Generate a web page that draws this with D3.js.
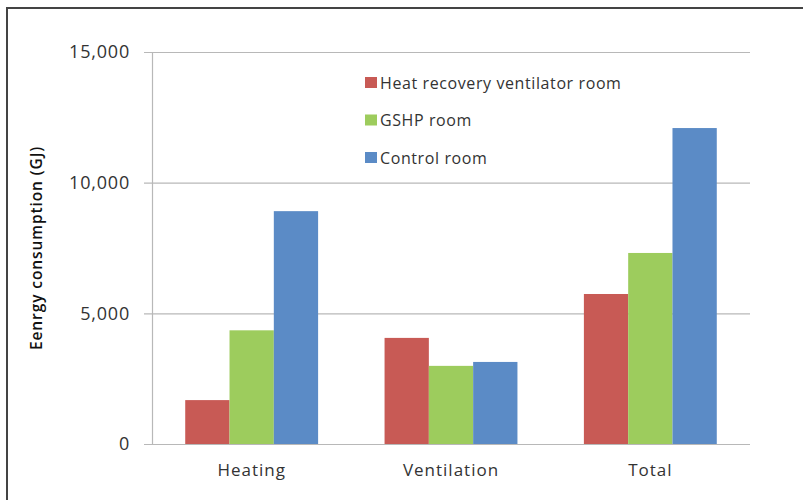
<!DOCTYPE html>
<html>
<head>
<meta charset="utf-8">
<script src="https://cdn.jsdelivr.net/npm/d3@7"></script>
<style>
  body { margin: 0; background: #fff; }
  text { font-family: "Open Sans", Lato, sans-serif; fill: #333; }
</style>
</head>
<body>
<div id="chart"></div>
<script>
const categories = ["Heating", "Ventilation", "Total"];
const seriesNames = ["Heat recovery ventilator room", "GSHP room", "Control room"];
const hrvRoom = [1680, 4060, 5740];
const gshpRoom = [4350, 2990, 7310];
const controlRoom = [8910, 3140, 12090];
const yTicks = [0, 5000, 10000, 15000];
const colors = ["#c85a55", "#9dcc5d", "#5b8bc6"];

const width = 803, height = 500;
const margin = { top: 52, left: 152, right: 53, bottom: 56 };

const svg = d3.select("#chart").append("svg")
  .attr("width", width)
  .attr("height", height);

// outer frame, runs off the right and bottom edges
svg.append("rect")
  .attr("x", 7).attr("y", 8)
  .attr("width", width + 10).attr("height", height + 10)
  .attr("fill", "none").attr("stroke", "#444").attr("stroke-width", 2);

const x = d3.scaleBand()
  .domain(categories)
  .range([margin.left, width - margin.right]);

const y = d3.scaleLinear()
  .domain([0, 15000])
  .range([height - margin.bottom, margin.top]);

// gridlines
svg.append("g")
  .selectAll("line")
  .data(yTicks)
  .join("line")
  .attr("x1", margin.left - 8)
  .attr("x2", width - margin.right)
  .attr("y1", d => y(d) + 0.5)
  .attr("y2", d => y(d) + 0.5)
  .attr("stroke", "#b8b8b8")
  .attr("stroke-width", 1.2);

// y axis line
svg.append("line")
  .attr("x1", margin.left + 0.5).attr("x2", margin.left + 0.5)
  .attr("y1", y(15000)).attr("y2", y(0))
  .attr("stroke", "#b8b8b8").attr("stroke-width", 1.2);

// y tick labels
svg.append("g")
  .selectAll("text")
  .data(yTicks)
  .join("text")
  .attr("x", margin.left - 22)
  .attr("y", d => y(d))
  .attr("dy", "0.35em")
  .attr("text-anchor", "end")
  .style("font-size", "18px")
  .style("letter-spacing", "0.8px")
  .text(d => d3.format(",")(d));

// bars
const series = [hrvRoom, gshpRoom, controlRoom];
const barW = x.bandwidth() / 4.5;
const xs = d3.scaleBand()
  .domain(d3.range(series.length))
  .range([0, barW * 3]);

const rows = categories.map((c, i) => ({ cat: c, values: series.map(s => s[i]) }));

svg.append("g")
  .selectAll("g")
  .data(rows)
  .join("g")
  .attr("transform", d => `translate(${x(d.cat) + (x.bandwidth() - barW * 3) / 2},0)`)
  .selectAll("rect")
  .data(d => d.values)
  .join("rect")
  .attr("x", (d, i) => xs(i))
  .attr("width", xs.bandwidth())
  .attr("y", d => y(d))
  .attr("height", d => y(0) - y(d))
  .attr("fill", (d, i) => colors[i]);

// category labels
svg.append("g")
  .selectAll("text")
  .data(categories)
  .join("text")
  .attr("x", d => x(d) + x.bandwidth() / 2)
  .attr("y", y(0) + 32)
  .attr("text-anchor", "middle")
  .style("font-size", "17px")
  .style("letter-spacing", "1px")
  .text(d => d);

// y axis title
svg.append("text")
  .attr("transform", `translate(42,${(y(0) + y(15000)) / 2}) rotate(-90)`)
  .attr("text-anchor", "middle")
  .style("font-size", "15.5px")
  .style("font-weight", "600")
  .style("letter-spacing", "0.9px")
  .style("fill", "#111")
  .text("Eenrgy consumption (GJ)");

// legend
const legend = svg.append("g")
  .selectAll("g")
  .data(seriesNames)
  .join("g")
  .attr("transform", (d, i) => `translate(365,${83 + i * 37.5})`);

legend.append("rect")
  .attr("x", 0).attr("y", -6)
  .attr("width", 12).attr("height", 11)
  .attr("fill", (d, i) => colors[i]);

legend.append("text")
  .attr("x", 15)
  .attr("dy", "0.35em")
  .style("font-size", "16px")
  .style("letter-spacing", "0.6px")
  .text(d => d);
</script>
</body>
</html>
